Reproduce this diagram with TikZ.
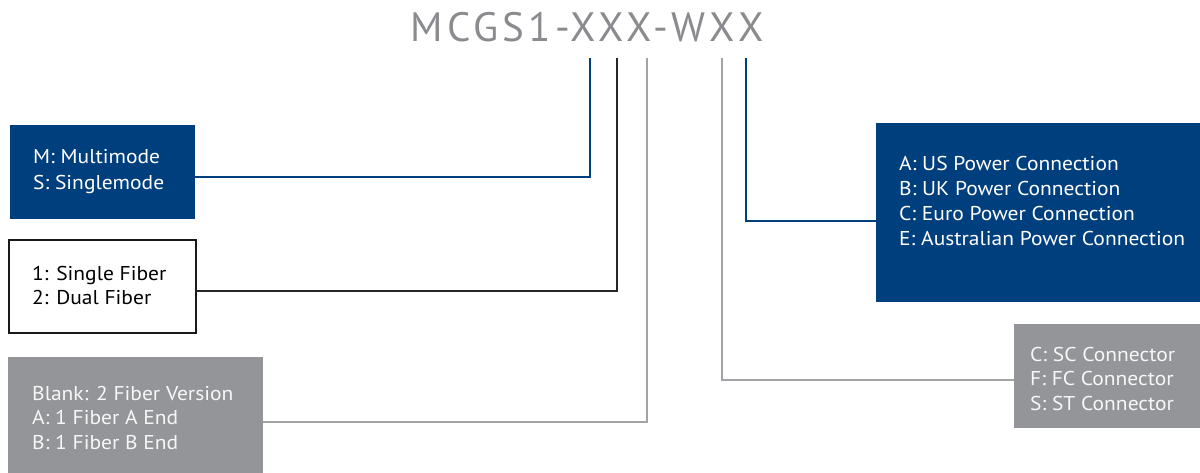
\documentclass[tikz,border=0pt]{standalone}
\usepackage{fontspec}
\setmainfont{PT Sans}
\newfontfamily\bodyfont[FakeStretch=1.075]{PT Sans}
\newfontfamily\titlefont[LetterSpace=10]{PT Sans}
\definecolor{nblue}{HTML}{003F7D}
\definecolor{ngray}{HTML}{939598}
\definecolor{lgray}{HTML}{A2A3A6}
\definecolor{tgray}{HTML}{8A8B8E}
\begin{document}
\begin{tikzpicture}[x=1pt,y=-1pt,
  box/.style={rectangle,inner sep=0pt,outer sep=0pt,anchor=north west},
  bluebox/.style={box,fill=nblue},
  graybox/.style={box,fill=ngray},
  whitebox/.style={box,draw=black!90,line width=2pt,fill=white},
  txt/.style={anchor=base west,inner sep=0pt,font=\bodyfont\fontsize{20}{25}\selectfont},
  wtxt/.style={txt,text=white},
  gtxt/.style={txt,text=white!94!gray},
  conn/.style={line width=2.7pt}
]
\useasboundingbox (0,0) rectangle (1200,473);
% title
\node[anchor=base,inner sep=0pt,text=tgray,font=\titlefont\fontsize{41}{41}\selectfont] (title) at (587,42) {MCGS1-XXX-WXX};
% anchor coordinates under title
\coordinate (t1) at (590,58);
\coordinate (t2) at (617,58);
\coordinate (t3) at (647,58);
\coordinate (t4) at (722,58);
\coordinate (t5) at (746,58);
% boxes
\node[bluebox,minimum width=185,minimum height=94] (b1) at (10,125) {};
\node[wtxt] (b1a) at (33,164) {M: Multimode};
\node[wtxt] (b1b) at (33,190) {S: Singlemode};
\node[whitebox,minimum width=187,minimum height=93] (b2) at (9,240) {};
\node[txt] (b2a) at (32,280) {1: Single Fiber};
\node[txt] (b2b) at (32,305) {2: Dual Fiber};
\node[graybox,minimum width=255,minimum height=116] (b3) at (8,357) {};
\node[gtxt] (b3a) at (32,400) {Blank: 2 Fiber Version};
\node[gtxt] (b3b) at (32,424.5) {A: 1 Fiber A End};
\node[gtxt] (b3c) at (32,449) {B: 1 Fiber B End};
\node[bluebox,minimum width=324,minimum height=179] (b4) at (876,123) {};
\node[wtxt] (b4a) at (899,171) {A: US Power Connection};
\node[wtxt] (b4b) at (899,196) {B: UK Power Connection};
\node[wtxt] (b4c) at (899,221) {C: Euro Power Connection};
\node[wtxt] (b4d) at (899,246) {E: Australian Power Connection};
\node[graybox,minimum width=186,minimum height=104] (b5) at (1014,324) {};
\node[gtxt] (b5a) at (1030,361) {C: SC Connector};
\node[gtxt] (b5b) at (1030,385.5) {F: FC Connector};
\node[gtxt] (b5c) at (1030,410) {S: ST Connector};
% connectors
\draw[conn,nblue] (t1) |- (b1.east |- 0,177);
\draw[conn,black!85] (t2) |- (b2.east |- 0,291);
\draw[conn,lgray] (t3) |- (b3.east |- 0,422);
\draw[conn,nblue] (t5) |- (b4.west |- 0,221);
\draw[conn,lgray] (t4) |- (b5.west |- 0,380);
\end{tikzpicture}
\end{document}
